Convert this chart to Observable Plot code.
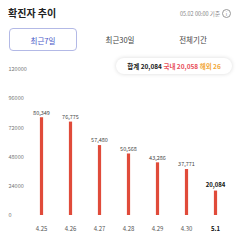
<!DOCTYPE html>
<html><head><meta charset="utf-8">
<script src="https://cdn.jsdelivr.net/npm/d3@7"></script>
<script src="https://cdn.jsdelivr.net/npm/@observablehq/plot@0.6"></script>
<style>
body{margin:0;width:240px;height:240px;background:#fff;font-family:"Noto Sans CJK KR","Noto Sans",sans-serif;position:relative;overflow:hidden}
#title{position:absolute;left:8px;top:5px;font-size:10px;font-weight:700;color:#222}
#stamp{position:absolute;right:9px;top:9px;font-size:5.5px;color:#888;display:flex;align-items:center;gap:2px}
#stamp .i{display:inline-block;width:7px;height:7px;border:0.8px solid #999;border-radius:50%;font-size:5px;line-height:7px;text-align:center;color:#888}
.tab{position:absolute;top:28px;height:23px;line-height:23px;font-size:7.5px;color:#444;text-align:center}
#t1{left:9px;width:68px;border:1px solid #b3b9e6;border-radius:4px;color:#4a58c8;box-sizing:border-box}
#t2{left:90px;width:60px}
#t3{left:163px;width:60px}
#pill{position:absolute;left:116px;top:58px;width:116px;height:16px;border-radius:8px;background:#fff;box-shadow:0 0 4px rgba(0,0,0,0.15);font-size:6.5px;font-weight:700;line-height:16px;text-align:center;white-space:nowrap}
#chart{position:absolute;left:0;top:57px}
</style></head><body>
<div id="title">확진자 추이</div>
<div id="stamp">05.02 00:00 기준 <span class="i">i</span></div>
<div class="tab" id="t1">최근7일</div>
<div class="tab" id="t2">최근30일</div>
<div class="tab" id="t3">전체기간</div>
<div id="chart"></div>
<div id="pill"><span style="color:#222">합계 20,084</span> <span style="color:#e8505b">국내 20,058</span> <span style="color:#f2a93b">해외 26</span></div>
<script>
const dates = ["4.25","4.26","4.27","4.28","4.29","4.30","5.1"];
const cases = [80349,76775,57480,50568,43286,37771,20084];
const yTicks = [0,24000,48000,72000,96000,120000];
const data = dates.map((d,i)=>({date:d, value:cases[i], last:i===dates.length-1}));
const fmt = d3.format(",");
const plot = Plot.plot({
  width:240, height:183,
  marginLeft:40, marginRight:25, marginTop:12, marginBottom:25,
  style:{fontFamily:"'Noto Sans CJK KR','Noto Sans',sans-serif", background:"transparent"},
  x:{type:"point", domain:dates, padding:0, label:null},
  y:{domain:[0,120000], label:null},
  marks:[
    Plot.axisY({ticks:yTicks, tickSize:0, tickPadding:32, textAnchor:"start", tickFormat:d=>String(d), fontSize:5.5, fill:"#777", label:null}),
    Plot.axisX({tickSize:0, tickPadding:11, fontSize:6, fill:"#555", tickFormat:d=>d, label:null}),
    Plot.ruleX(data, {x:"date", y1:0, y2:"value", stroke:"#e04b3a", strokeWidth:3.2}),
    Plot.text(data.filter(d=>!d.last), {x:"date", y:"value", text:d=>fmt(d.value), dy:-5, fontSize:5.5, fill:"#444"}),
    Plot.text(data.filter(d=>d.last), {x:"date", y:"value", text:d=>fmt(d.value), dy:-6, fontSize:6, fontWeight:"bold", fill:"#111"})
  ]
});
document.getElementById("chart").appendChild(plot);
const lbls = plot.querySelectorAll("g[aria-label='x-axis tick label'] text");
if (lbls.length) { const l = lbls[lbls.length-1]; l.setAttribute("font-weight","bold"); l.setAttribute("fill","#111"); }
</script>
</body></html>
